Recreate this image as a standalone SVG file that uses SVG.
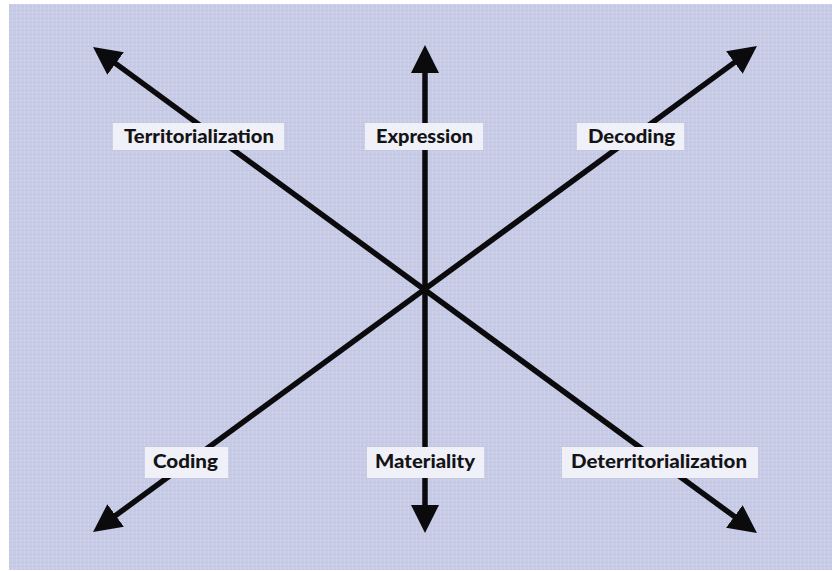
<svg xmlns="http://www.w3.org/2000/svg" width="832" height="571" viewBox="0 0 832 571">
  <style>
    .axis { stroke: #0b0b0d; stroke-width: 5.5; fill: none; marker-start: url(#head); marker-end: url(#head); }
    .box { fill: #eff0f8; }
    .lbl { font-family: "Lato", "Open Sans", "DejaVu Sans", sans-serif; font-weight: 900; font-size: 19px; fill: #141416; text-anchor: middle; }
  </style>
  <defs>
    <marker id="head" viewBox="0 0 28 28" markerUnits="userSpaceOnUse" markerWidth="28" markerHeight="28" refX="18" refY="14" orient="auto-start-reverse">
      <path d="M0,0 L28,14 L0,28 Z" fill="#0b0b0d"/>
    </marker>
    <pattern id="weave" width="4" height="4" patternUnits="userSpaceOnUse">
      <rect width="4" height="4" fill="#c7cbe5"/>
      <rect x="0" width="1" height="4" fill="#cfd3eb"/>
      <rect y="2" width="4" height="1" fill="#c3c7e2"/>
    </pattern>
  </defs>

  <!-- paper -->
  <rect width="832" height="571" fill="#ffffff"/>
  <rect x="9" y="4" width="823" height="566" fill="url(#weave)"/>

  <!-- three crossing double-headed axes -->
  <g id="connectors">
    <line class="axis" x1="425" y1="55" x2="425" y2="523"/>
    <line class="axis" x1="101.1" y1="52.9" x2="748.9" y2="527.1"/>
    <line class="axis" x1="101.1" y1="526.1" x2="748.9" y2="51.9"/>
  </g>

  <g id="territorialization">
    <rect class="box" x="113" y="123" width="171" height="27"/>
    <text class="lbl" x="199" y="143" textLength="150" lengthAdjust="spacingAndGlyphs">Territorialization</text>
  </g>
  <g id="expression">
    <rect class="box" x="365" y="123" width="118" height="27"/>
    <text class="lbl" x="424.5" y="143" textLength="97" lengthAdjust="spacingAndGlyphs">Expression</text>
  </g>
  <g id="decoding">
    <rect class="box" x="577" y="123" width="107" height="27"/>
    <text class="lbl" x="631.5" y="143" textLength="87" lengthAdjust="spacingAndGlyphs">Decoding</text>
  </g>
  <g id="coding">
    <rect class="box" x="145" y="447" width="83" height="31"/>
    <text class="lbl" x="185.5" y="468" textLength="65" lengthAdjust="spacingAndGlyphs">Coding</text>
  </g>
  <g id="materiality">
    <rect class="box" x="367" y="447" width="117" height="31"/>
    <text class="lbl" x="425" y="468" textLength="100" lengthAdjust="spacingAndGlyphs">Materiality</text>
  </g>
  <g id="deterritorialization">
    <rect class="box" x="562" y="447" width="196" height="31"/>
    <text class="lbl" x="659" y="468" textLength="176" lengthAdjust="spacingAndGlyphs">Deterritorialization</text>
  </g>
</svg>
